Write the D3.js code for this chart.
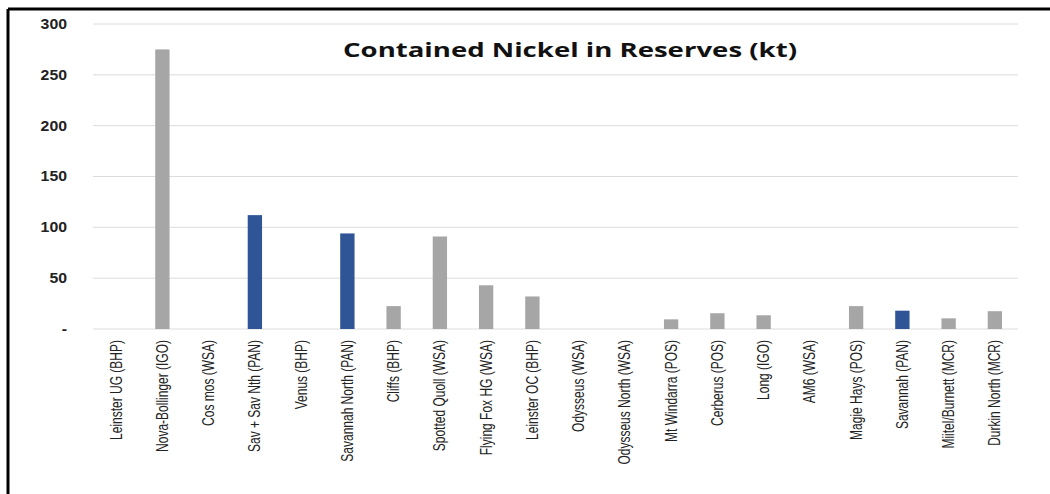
<!DOCTYPE html>
<html>
<head>
<meta charset="utf-8">
<script src="https://cdn.jsdelivr.net/npm/d3@7"></script>
<style>
  html, body { margin: 0; padding: 0; background: #fff; }
  svg { display: block; }
</style>
</head>
<body>
<svg id="chart" width="1050" height="494"></svg>
<script>
const categories = [
  "Leinster UG (BHP)", "Nova-Bollinger (IGO)", "Cos mos (WSA)", "Sav + Sav Nth (PAN)",
  "Venus (BHP)", "Savannah North (PAN)", "Cliffs (BHP)", "Spotted Quoll (WSA)",
  "Flying Fox HG (WSA)", "Leinster OC (BHP)", "Odysseus (WSA)", "Odysseus North (WSA)",
  "Mt Windarra (POS)", "Cerberus (POS)", "Long (IGO)", "AM6 (WSA)",
  "Magie Hays (POS)", "Savannah (PAN)", "Miitel/Burnett (MCR)", "Durkin North (MCR)"
];
const values = [0, 275, 0, 112, 0, 94, 22.5, 91, 43, 32, 0, 0, 9.5, 15.5, 13.5, 0, 22.5, 18, 10.5, 17.5];
const highlight = [false, false, false, true, false, true, false, false, false, false, false, false, false, false, false, false, false, true, false, false];
const yTicks = [0, 50, 100, 150, 200, 250, 300];
const yTickLabels = ["-", "50", "100", "150", "200", "250", "300"];
const title = "Contained Nickel in Reserves (kt)";

const svg = d3.select("#chart");

// frame (top and left lines)
svg.append("line").attr("x1", 8).attr("x2", 1050).attr("y1", 9).attr("y2", 9)
  .attr("stroke", "#000").attr("stroke-width", 3);
svg.append("line").attr("x1", 8).attr("x2", 8).attr("y1", 9).attr("y2", 494)
  .attr("stroke", "#000").attr("stroke-width", 3);

const x = d3.scaleBand().domain(categories).range([93, 1018]).paddingInner(0.69).paddingOuter(0.345);
const y = d3.scaleLinear().domain([0, 300]).range([329, 24]);

// gridlines
svg.append("g").selectAll("line").data(yTicks).join("line")
  .attr("x1", 93).attr("x2", 1018)
  .attr("y1", d => y(d)).attr("y2", d => y(d))
  .attr("stroke", "#dcdcdc").attr("stroke-width", 1);

// y axis labels
const yAxis = d3.axisLeft(y).tickValues(yTicks).tickSize(0).tickPadding(0)
  .tickFormat((d, i) => yTickLabels[i]);
const gy = svg.append("g").attr("transform", "translate(67,0)").call(yAxis);
gy.select(".domain").remove();
gy.selectAll(".tick text")
  .attr("font-family", "Liberation Sans, Arial, sans-serif")
  .attr("font-weight", "bold").attr("font-size", 14).attr("fill", "#222")
  .each(function () {
    const len = this.getComputedTextLength();
    d3.select(this).attr("textLength", len * 1.13).attr("lengthAdjust", "spacingAndGlyphs");
  });

// bars
svg.append("g").selectAll("rect").data(values).join("rect")
  .attr("x", (d, i) => x(categories[i]))
  .attr("width", x.bandwidth())
  .attr("y", d => y(d))
  .attr("height", d => y(0) - y(d))
  .attr("fill", (d, i) => highlight[i] ? "#2f5597" : "#a6a6a6");

// x axis labels (condensed)
const sx = 0.75;
const xAxis = d3.axisBottom(x).tickSize(0).tickPadding(0);
const gx = svg.append("g").attr("transform", "translate(0,329)").call(xAxis);
gx.select(".domain").remove();
gx.selectAll("text")
  .attr("font-family", "Liberation Sans, Arial, sans-serif")
  .attr("font-size", 16).attr("fill", "#222")
  .attr("transform", `rotate(-90) scale(${sx},1)`)
  .attr("text-anchor", "end")
  .attr("dy", "0.35em")
  .attr("x", -11 / sx).attr("y", 0);

// title (wide)
const tt = svg.append("text").attr("x", 570).attr("y", 57)
  .attr("text-anchor", "middle")
  .attr("font-family", "Open Sans, sans-serif")
  .attr("font-weight", "bold").attr("font-size", 20).attr("fill", "#111")
  .text(title);
tt.attr("textLength", 454).attr("lengthAdjust", "spacingAndGlyphs");
</script>
</body>
</html>
